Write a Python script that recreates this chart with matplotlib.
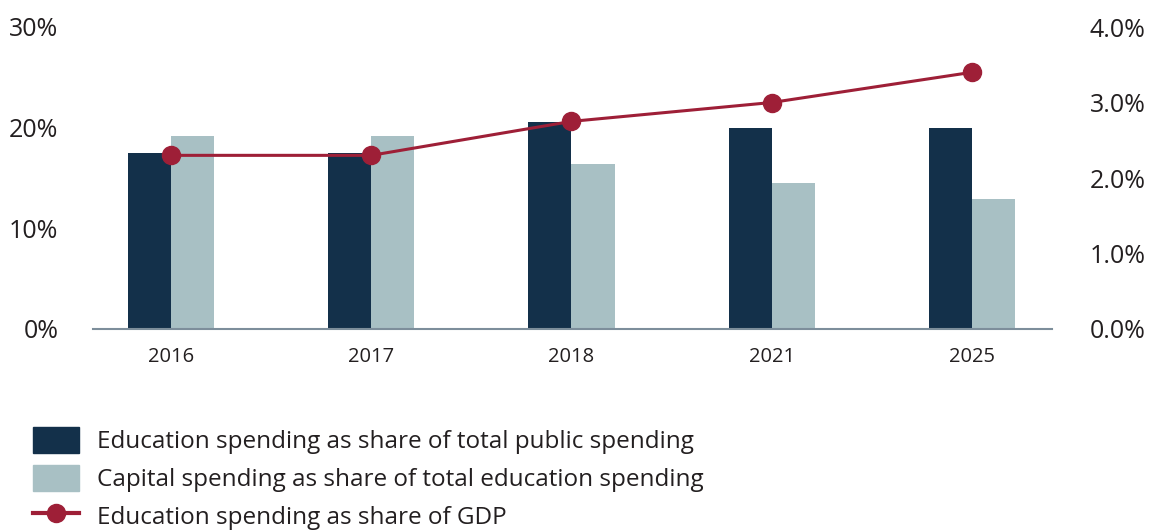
import matplotlib.pyplot as plt
from matplotlib.lines import Line2D
from matplotlib.patches import Patch
from matplotlib.ticker import FuncFormatter

plt.rcParams['font.family'] = ['Open Sans', 'DejaVu Sans']

years = ['2016', '2017', '2018', '2021', '2025']
edu_share_public = [17.5, 17.5, 20.6, 20.0, 20.0]     # % of total public spending
capital_share_edu = [19.2, 19.2, 16.4, 14.5, 12.9]    # % of total education spending
edu_share_gdp = [2.3, 2.3, 2.75, 3.0, 3.4]            # % of GDP

DARK = '#13304a'
LIGHT = '#a8c0c4'
RED = '#9e1f37'
TEXT = '#231f20'

fig = plt.figure(figsize=(11.63, 5.31), dpi=100)
ax = fig.add_axes([93 / 1163, 1 - 329 / 531, (1052 - 93) / 1163, (329 - 27) / 531])
ax2 = ax.twinx()

x = range(len(years))
w = 0.215
ax.bar([i - w / 2 for i in x], edu_share_public, width=w, color=DARK, zorder=2)
ax.bar([i + w / 2 for i in x], capital_share_edu, width=w, color=LIGHT, zorder=2)
ax2.plot(list(x), edu_share_gdp, color=RED, lw=2.2, marker='o', markersize=13, zorder=3)

ax.set_xlim(-0.39, 4.4)
ax.set_ylim(0, 30)
ax2.set_ylim(0, 4)
ax.set_yticks([0, 10, 20, 30])
ax2.set_yticks([0, 1, 2, 3, 4])
ax.yaxis.set_major_formatter(FuncFormatter(lambda v, _: f'{v:.0f}%'))
ax2.yaxis.set_major_formatter(FuncFormatter(lambda v, _: f'{v:.1f}%'))
ax.set_xticks(list(x))
ax.set_xticklabels(years)

for a in (ax, ax2):
    for s in a.spines.values():
        s.set_visible(False)
    a.tick_params(length=0, colors=TEXT)
ax.spines['bottom'].set_visible(True)
ax.spines['bottom'].set_color('#7d8e9b')
ax.spines['bottom'].set_linewidth(1.5)
ax.spines['bottom'].set_zorder(4)

# tick labels sit well away from the plotting area on both sides
ax.tick_params(axis='y', labelsize=18, pad=25)
ax.tick_params(axis='x', labelsize=14.5, pad=13)
ax2.tick_params(axis='y', labelsize=18, pad=27)

handles = [
    Patch(color=DARK),
    Patch(color=LIGHT),
    Line2D([0], [0], color=RED, lw=3, marker='o', markersize=13),
]
labels = [
    'Education spending as share of total public spending',
    'Capital spending as share of total education spending',
    'Education spending as share of GDP',
]
fig.legend(handles, labels, loc='upper left', bbox_to_anchor=(33 / 1163, 1 - 427 / 531),
           frameon=False, fontsize=17.5, handlelength=1.9, handleheight=1.3,
           handletextpad=0.75, labelspacing=0.42, borderpad=0, borderaxespad=0,
           labelcolor=TEXT)

fig.savefig('out.png', dpi=100)
